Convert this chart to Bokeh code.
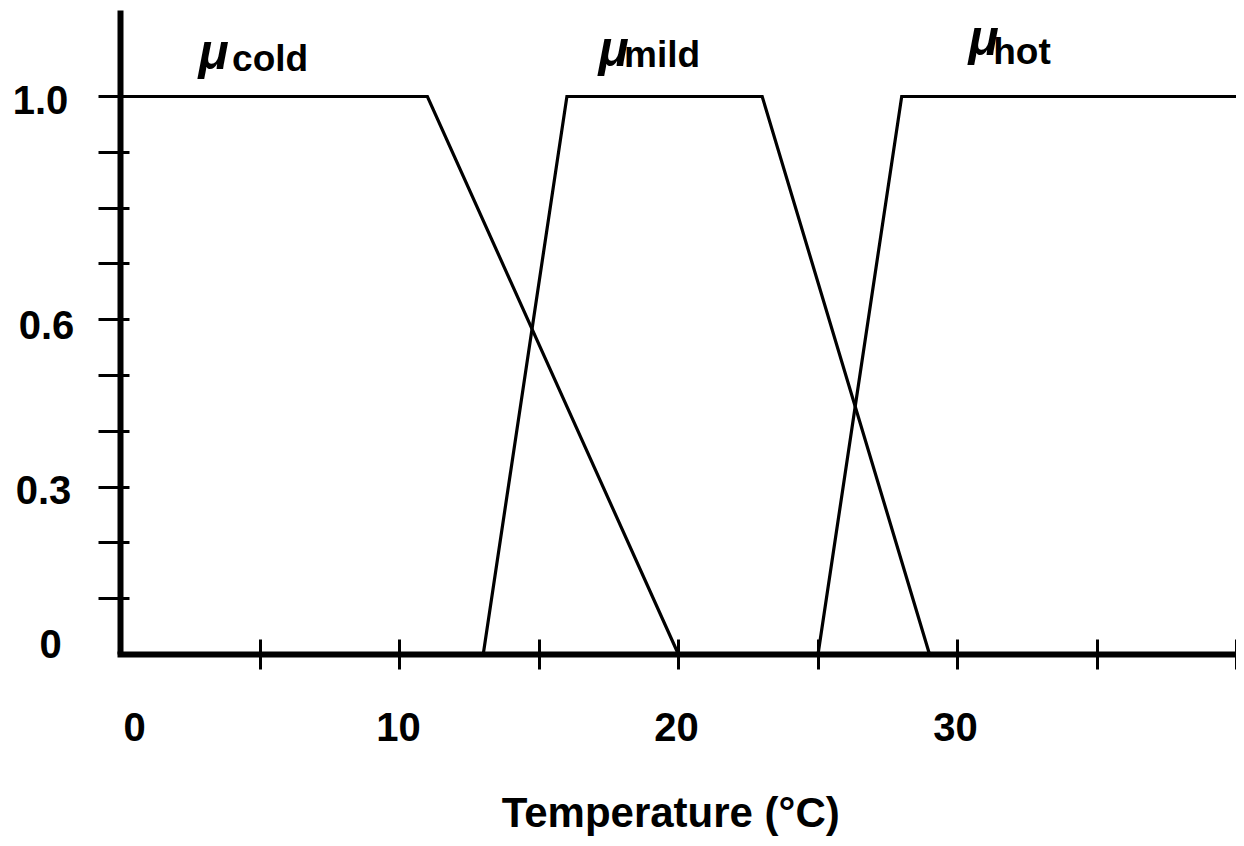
from bokeh.plotting import figure
from bokeh.models import LinearAxis, FixedTicker, Range1d
from bokeh.core.properties import value
from bokeh.embed import file_html
from bokeh.resources import INLINE

# ---------------- data ----------------
cold_x = [0, 11, 20]
cold_y = [1.0, 1.0, 0.0]
mild_x = [13, 16, 23, 29]
mild_y = [0.0, 1.0, 1.0, 0.0]
hot_x = [25, 28, 40]
hot_y = [0.0, 1.0, 1.0]

x_tick_values = [5, 10, 15, 20, 25, 30, 35, 40]
y_tick_values = [0.1, 0.2, 0.3, 0.4, 0.5, 0.6, 0.7, 0.8, 0.9, 1.0]
x_label_values = [0, 10, 20, 30]
x_label_texts = ["0", "10", "20", "30"]
y_label_values = [1.0, 0.6, 0.3, 0.0]
y_label_texts = ["1.0", "0.6", "0.3", "0"]
set_names = ["cold", "mild", "hot"]
x_title = "Temperature (°C)"

# ---------------- layout (pixels) ----------------
W, H = 1236, 838
X0_PX, PX_PER_X = 120, 27.9      # canvas x of value 0, px per degree
Y0_PX, PX_PER_Y = 654, 558       # canvas y of value 0, px per unit
x_start = -X0_PX / PX_PER_X
x_end = (W - X0_PX) / PX_PER_X
y_start = -(H - Y0_PX) / PX_PER_Y
y_end = Y0_PX / PX_PER_Y

FONT = value("Liberation Sans")

p = figure(width=W, height=H, output_backend="svg", toolbar_location=None,
           x_range=Range1d(x_start, x_end), y_range=Range1d(y_start, y_end),
           x_axis_location=None, y_axis_location=None, min_border=0)
p.grid.visible = False
p.outline_line_color = None
p.background_fill_color = "white"
p.border_fill_color = "white"

# axes
xaxis = LinearAxis(fixed_location=0, bounds=(-0.11, 40.14),
                   ticker=FixedTicker(ticks=x_tick_values),
                   major_label_overrides={t: "" for t in x_tick_values})
xaxis.axis_line_width = 6
xaxis.axis_line_color = "black"
xaxis.major_tick_line_width = 3
xaxis.major_tick_line_color = "black"
xaxis.major_tick_in = 15
xaxis.major_tick_out = 15
xaxis.minor_tick_line_color = None
xaxis.major_label_text_font_size = "0px"
p.add_layout(xaxis, "below")

yaxis = LinearAxis(fixed_location=0, bounds=(0, 1.154),
                   ticker=FixedTicker(ticks=y_tick_values),
                   major_label_overrides={t: "" for t in y_tick_values})
yaxis.axis_line_width = 6
yaxis.axis_line_color = "black"
yaxis.major_tick_line_width = 3
yaxis.major_tick_line_color = "black"
yaxis.major_tick_in = 9
yaxis.major_tick_out = 22
yaxis.minor_tick_line_color = None
yaxis.major_label_text_font_size = "0px"
p.add_layout(yaxis, "left")

# membership functions
for xs, ys in [(cold_x, cold_y), (mild_x, mild_y), (hot_x, hot_y)]:
    p.line(xs, ys, line_color="black", line_width=3.2, line_join="miter")

# x tick labels
x_label_offsets = [14, -1, -2, -2]
p.text(x=x_label_values, y=[0] * len(x_label_values), text=x_label_texts,
       x_offset=x_label_offsets, y_offset=72,
       text_font=FONT, text_font_style="bold", text_font_size="40px",
       text_align="center", text_baseline="alphabetic", text_color="black")

# y tick labels
y_label_xoff = [-80, -74, -77, -70]
y_label_yoff = [3, 5, 3, -11]
p.text(x=[0] * len(y_label_values), y=y_label_values, text=y_label_texts,
       x_offset=y_label_xoff, y_offset=y_label_yoff,
       text_font=FONT, text_font_style="bold", text_font_size="40px",
       text_align="center", text_baseline="alphabetic", text_color="black")

# axis title
p.text(x=[19.72], y=[0], text=[x_title], y_offset=158,
       text_font=FONT, text_font_style="bold", text_font_size="42px",
       text_align="center", text_baseline="alphabetic", text_color="black")

# membership labels: mu + subscript
mu_x = [2.8, 17.13, 30.39]
mu_yoff = [-45, -48, -59]
sub_x = [4.0, 18.05, 31.28]
sub_yoff = [-38, -42, -45]
p.text(x=mu_x, y=[1.0] * 3, text=["μ"] * 3, y_offset=mu_yoff,
       text_font=FONT, text_font_style="bold italic", text_font_size="50px",
       text_align="left", text_baseline="alphabetic", text_color="black")
p.text(x=sub_x, y=[1.0] * 3, text=set_names, y_offset=sub_yoff,
       text_font=FONT, text_font_style="bold", text_font_size="37px",
       text_align="left", text_baseline="alphabetic", text_color="black")

open("out.html", "w").write(file_html(p, INLINE))
